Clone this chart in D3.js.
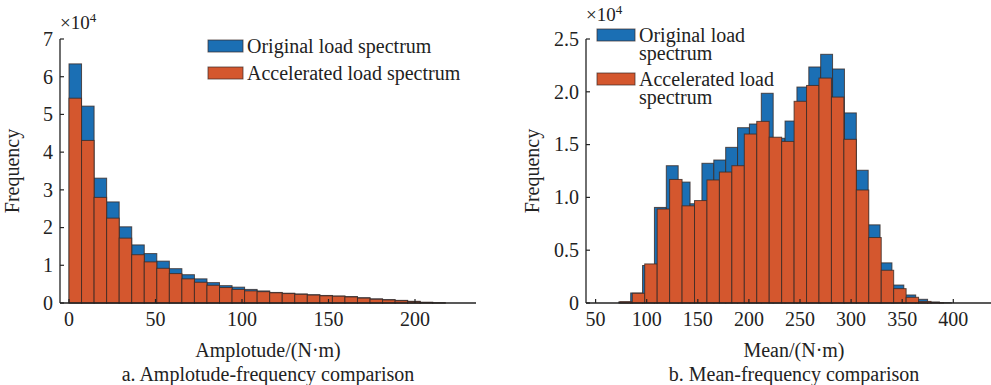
<!DOCTYPE html>
<html lang="en">
<head>
<meta charset="UTF-8">
<title>Load spectrum comparison</title>
<script src="https://d3js.org/d3.v7.min.js"></script>
<style>
    body { margin: 0; padding: 0; background: #fff; }
    svg { display: block; }
    text { font-family: 'Liberation Serif', 'Times New Roman', serif; fill: #222; }
</style>
</head>
<body>
<svg width="991" height="385"></svg>
<script>
// amplitude histogram (counts), bins of equal width starting at 0
const ampBinStart = 0;
const ampBinWidth = 7.25;
const ampOriginal = [63400, 52200, 33100, 26800, 20200, 15400, 13100, 11100, 9100, 7500,
                     6400, 5400, 4600, 4200, 3600, 3200, 2800, 2600, 2400, 2200,
                     2000, 1850, 1700, 1400, 1100, 900, 700, 450, 200, 50];
const ampAccelerated = [54300, 43100, 28000, 22500, 17200, 12800, 10900, 9200, 7800, 6400,
                        5500, 4700, 4100, 3600, 3200, 3000, 2700, 2500, 2300, 2100,
                        1900, 1800, 1600, 1300, 1000, 800, 600, 400, 150, 30];
const ampTicksX = [0, 50, 100, 150, 200];
const ampTicksY = [0, 10000, 20000, 30000, 40000, 50000, 60000, 70000];

// mean histogram (counts); the two spectra use slightly different bins
const meanOrigStart = 72.7;
const meanOrigWidth = 11.62;
const meanOriginal = [100, 950, 3550, 9050, 13000, 11450, 9400, 13230, 13540, 14740,
                      16600, 16950, 19860, 15600, 17230, 20450, 22350, 23550, 22160, 18000,
                      12570, 7400, 3800, 1700, 760, 350, 100, 30];
const meanAccelStart = 73.7;
const meanAccelWidth = 12.18;
const meanAccelerated = [120, 920, 3700, 8900, 11700, 9200, 9700, 11650, 12400, 13000,
                         16000, 17200, 15700, 15300, 19100, 20600, 21300, 19500, 15500, 10700,
                         6200, 3100, 1360, 540, 150, 30];
const meanTicksX = [50, 100, 150, 200, 250, 300, 350, 400];
const meanTicksY = [0, 5000, 10000, 15000, 20000, 25000];

const seriesNames = ["Original load spectrum", "Accelerated load spectrum"];
const colors = ["#1B6FB4", "#D4572E"];
const fontSize = 20;

const svg = d3.select("svg");
const plotTop = 39, plotBottom = 303;

function binsOf(values, start, width) {
    return values.map((v, i) => ({ x0: start + i * width, x1: start + (i + 1) * width, v: v }));
}

function panel(opt) {
    const g = svg.append("g");
    const x = d3.scaleLinear().domain(opt.xDomain).range(opt.xRange);
    const y = d3.scaleLinear().domain(opt.yDomain).range([plotBottom, plotTop]);

    opt.series.forEach((s, k) => {
        g.selectAll(null)
            .data(s)
            .enter()
            .append("rect")
            .attr("x", d => x(d.x0))
            .attr("y", d => y(d.v))
            .attr("width", d => x(d.x1) - x(d.x0))
            .attr("height", d => y(0) - y(d.v))
            .attr("fill", colors[k])
            .attr("stroke", "#3a2a25")
            .attr("stroke-opacity", 0.8)
            .attr("stroke-width", 1);
    });

    // axes lines
    g.append("line")
        .attr("x1", opt.axisLeft).attr("x2", opt.axisLeft)
        .attr("y1", plotTop).attr("y2", plotBottom)
        .attr("stroke", "#222").attr("stroke-width", 1.3);
    g.append("line")
        .attr("x1", opt.axisLeft).attr("x2", opt.axisRight)
        .attr("y1", plotBottom).attr("y2", plotBottom)
        .attr("stroke", "#222").attr("stroke-width", 1.3);

    // x ticks (inward)
    g.selectAll(null).data(opt.xTicks).enter().append("line")
        .attr("x1", d => x(d)).attr("x2", d => x(d))
        .attr("y1", plotBottom).attr("y2", plotBottom - 4)
        .attr("stroke", "#222").attr("stroke-width", 1.2);
    g.selectAll(null).data(opt.xTicks).enter().append("text")
        .attr("x", d => x(d))
        .attr("y", 326)
        .attr("text-anchor", "middle")
        .attr("font-size", fontSize)
        .text(d => d);

    // y ticks
    g.selectAll(null).data(opt.yTicks).enter().append("line")
        .attr("x1", opt.axisLeft).attr("x2", opt.axisLeft + 4)
        .attr("y1", d => y(d)).attr("y2", d => y(d))
        .attr("stroke", "#222").attr("stroke-width", 1.2);
    g.selectAll(null).data(opt.yTicks).enter().append("text")
        .attr("x", opt.axisLeft - 7)
        .attr("y", d => y(d))
        .attr("dy", "0.34em")
        .attr("text-anchor", "end")
        .attr("font-size", fontSize)
        .text(opt.yFormat);

    // exponent
    const ex = g.append("text")
        .attr("x", opt.axisLeft)
        .attr("y", opt.expY)
        .attr("font-size", fontSize - 1)
        .text("×10");
    ex.append("tspan").attr("font-size", 13).attr("dy", -7).text("4");

    // y title
    g.append("text")
        .attr("transform", `translate(${opt.axisLeft - opt.titleGap},171) rotate(-90)`)
        .attr("text-anchor", "middle")
        .attr("font-size", fontSize)
        .text("Frequency");

    // x title and caption
    g.append("text")
        .attr("x", opt.labelX).attr("y", 357)
        .attr("text-anchor", "middle")
        .attr("font-size", fontSize)
        .text(opt.xTitle);
    g.append("text")
        .attr("x", opt.labelX).attr("y", 381)
        .attr("text-anchor", "middle")
        .attr("font-size", fontSize)
        .text(opt.caption);

    // legend
    opt.legend.forEach((L, k) => {
        g.append("rect")
            .attr("x", L.x).attr("y", L.y)
            .attr("width", L.w).attr("height", 12)
            .attr("fill", colors[k])
            .attr("stroke", "#3a2a25").attr("stroke-opacity", 0.7);
        const t = g.append("text")
            .attr("x", L.x + L.w + 5)
            .attr("y", L.y + 12.5)
            .attr("font-size", fontSize);
        L.lines.forEach((line, i) => {
            t.append("tspan")
                .attr("x", L.x + L.w + 4)
                .attr("dy", i === 0 ? 0 : 18)
                .text(line);
        });
    });
}

panel({
    xDomain: [0, 200], xRange: [69, 415],
    yDomain: [0, 70000],
    axisLeft: 60, axisRight: 476,
    xTicks: ampTicksX, yTicks: ampTicksY,
    yFormat: d => d / 10000,
    expY: 29,
    titleGap: 41,
    series: [binsOf(ampOriginal, ampBinStart, ampBinWidth),
             binsOf(ampAccelerated, ampBinStart, ampBinWidth)],
    labelX: 268,
    xTitle: "Amplotude/(N·m)",
    caption: "a. Amplotude-frequency comparison",
    legend: [
        { x: 208, y: 40, w: 35, lines: [seriesNames[0]] },
        { x: 208, y: 67, w: 35, lines: [seriesNames[1]] }
    ]
});

panel({
    xDomain: [50, 400], xRange: [595.6, 953.3],
    yDomain: [0, 25000],
    axisLeft: 586, axisRight: 991,
    xTicks: meanTicksX, yTicks: meanTicksY,
    yFormat: d => d === 0 ? "0" : d3.format(".1f")(d / 10000),
    expY: 21,
    titleGap: 47,
    series: [binsOf(meanOriginal, meanOrigStart, meanOrigWidth),
             binsOf(meanAccelerated, meanAccelStart, meanAccelWidth)],
    labelX: 794,
    xTitle: "Mean/(N·m)",
    caption: "b. Mean-frequency comparison",
    legend: [
        { x: 597, y: 29, w: 38, lines: ["Original load", "spectrum"] },
        { x: 597, y: 73, w: 38, lines: ["Accelerated load", "spectrum"] }
    ]
});
</script>
</body>
</html>
